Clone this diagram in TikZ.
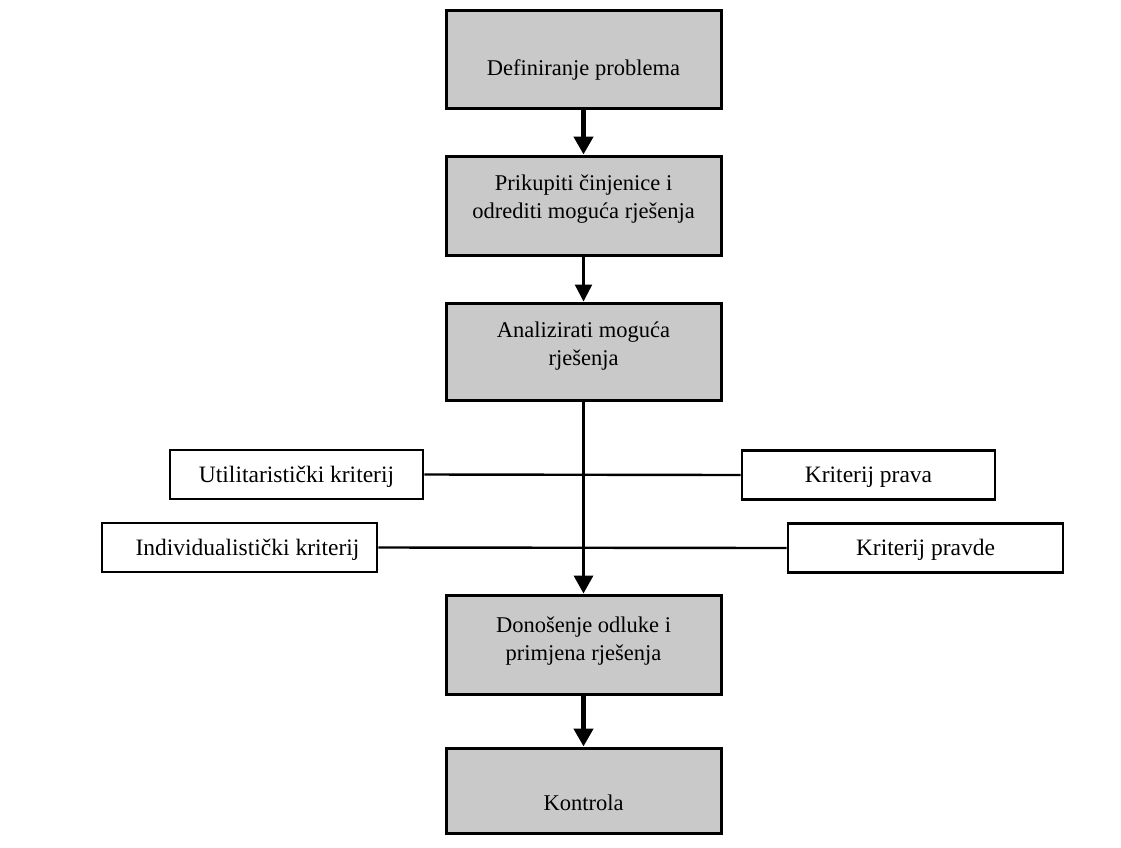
\documentclass[tikz,border=0pt]{standalone}
\usepackage{fontspec}
\setmainfont{Liberation Serif}
\usetikzlibrary{arrows.meta}
\newcommand{\boxtext}[2]{\raisebox{#1}[0pt][0pt]{\begin{tabular}[t]{@{}c@{}}#2\end{tabular}}}
\begin{document}
\begin{tikzpicture}[x=1pt,y=-1pt,
  mainbox/.style={draw=black, line width=3pt, fill=gray!42, minimum width=275pt, inner sep=0pt, align=center, font=\fontsize{22.5}{28.5}\selectfont},
  sidebox/.style={draw=black, line width=2.8pt, fill=white, minimum height=49pt, inner sep=0pt, align=center, font=\fontsize{23.5}{26}\selectfont},
  flow/.style={-{Triangle[length=18pt,width=19pt]}, line width=4.5pt},
  midflow/.style={-{Triangle[length=18pt,width=19pt]}, line width=3.5pt},
  thinflow/.style={-{Triangle[length=17pt,width=17pt]}, line width=2.5pt},
  link/.style={line width=2.4pt}]
\useasboundingbox (0,0) rectangle (1121,847);
\fill[white] (0,0) rectangle (1121,847);
\node[mainbox, minimum height=98pt] (b1) at (583.5,59) {\boxtext{-16pt}{Definiranje problema}};
\node[mainbox, minimum height=99pt] (b2) at (583.5,205.5) {\boxtext{15.5pt}{Prikupiti činjenice i\\odrediti moguća rješenja}};
\node[mainbox, minimum height=97pt] (b3) at (583.5,351.5) {\boxtext{14.5pt}{Analizirati moguća\\rješenja}};
\node[mainbox, minimum height=99pt] (b4) at (583.5,644.5) {\boxtext{12.5pt}{Donošenje odluke i\\primjena rješenja}};
\node[mainbox, minimum height=85pt] (b5) at (583.5,790.5) {\boxtext{-19.5pt}{Kontrola}};
\node[sidebox, minimum width=253pt] (u) at (296.5,474.5) {\boxtext{-7.5pt}{Utilitaristički kriterij}};
\node[sidebox, minimum width=253pt] (kp) at (868.5,475) {\boxtext{-7pt}{Kriterij prava}};
\node[sidebox, minimum width=275pt] (ind) at (239.5,547.5) {\boxtext{-7.5pt}{\hspace*{16pt}Individualistički kriterij}};
\node[sidebox, minimum width=275pt] (kpd) at (925.5,548) {\boxtext{-7pt}{Kriterij pravde}};
\draw[link] (u.east) -- (kp.west);
\draw[link] (ind.east) -- (kpd.west);
\draw[flow] (b1.south) -- (b2.north);
\draw[thinflow] (b2.south) -- (b3.north);
\draw[midflow] (b3.south) -- (b4.north);
\draw[flow] (b4.south) -- (b5.north);
\end{tikzpicture}
\end{document}
